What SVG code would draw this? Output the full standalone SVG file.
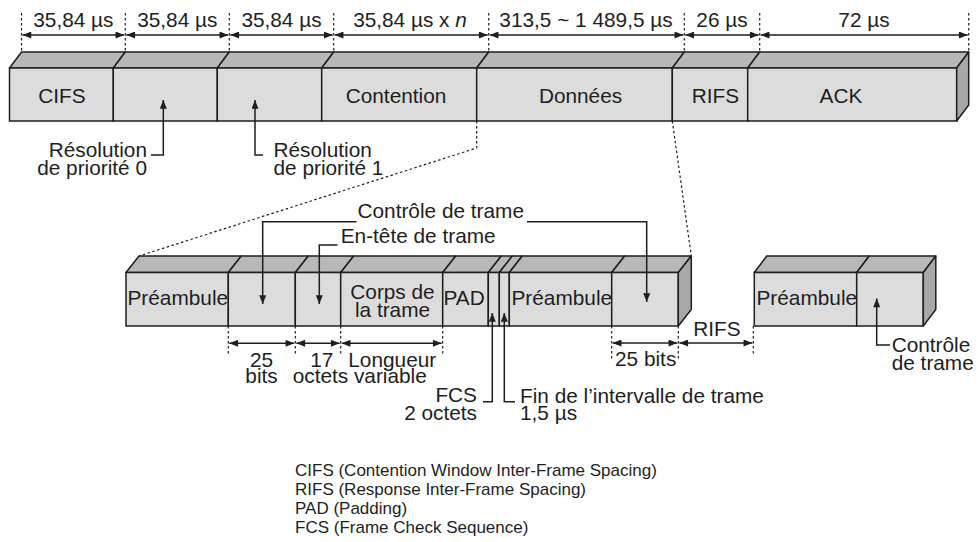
<svg xmlns="http://www.w3.org/2000/svg" width="978" height="542" viewBox="0 0 978 542">
<defs>
<style>
.f{fill:#dcdcdc;stroke:#1e1e1e;stroke-width:1.5}
.t{fill:#b8b8b8;stroke:#1e1e1e;stroke-width:1.5;stroke-linejoin:round}
.s{fill:#a8a8a8;stroke:#1e1e1e;stroke-width:1.5;stroke-linejoin:round}
.ln{fill:none;stroke:#1e1e1e;stroke-width:1.5}
.dt{fill:none;stroke:#1e1e1e;stroke-width:1.2;stroke-dasharray:2.5,2.5}
.dim{fill:none;stroke:#1e1e1e;stroke-width:1.5;marker-start:url(#ah);marker-end:url(#ah)}
.arr{fill:none;stroke:#1e1e1e;stroke-width:1.5;marker-end:url(#ah)}
text{font-family:"Liberation Sans",Arial,Helvetica,sans-serif;font-size:20.8px;fill:#1e1e1e}
.lg{font-size:17px}
.m{text-anchor:middle}
.e{text-anchor:end}
</style>
<marker id="ah" viewBox="0 0 10 8" refX="10" refY="4" markerWidth="10" markerHeight="7" orient="auto-start-reverse" markerUnits="userSpaceOnUse"><path d="M0,0 L10,4 L0,8 z" fill="#1e1e1e"/></marker>
</defs>

<!-- Top bar -->
<g id="cifs"><polygon class="t" points="9.5,68 21.5,52 125.3,52 113.3,68"/><rect class="f" x="9.5" y="68" width="103.8" height="53"/><text class="m" x="62" y="103">CIFS</text></g>
<g id="prio0"><polygon class="t" points="113.3,68 125.3,52 229.3,52 217.3,68"/><rect class="f" x="113.3" y="68" width="104" height="53"/></g>
<g id="prio1"><polygon class="t" points="217.3,68 229.3,52 333.7,52 321.7,68"/><rect class="f" x="217.3" y="68" width="104.4" height="53"/></g>
<g id="contention"><polygon class="t" points="321.7,68 333.7,52 488.7,52 476.7,68"/><rect class="f" x="321.7" y="68" width="155" height="53"/><text class="m" x="396" y="103">Contention</text></g>
<g id="donnees"><polygon class="t" points="476.7,68 488.7,52 684.3,52 672.3,68"/><rect class="f" x="476.7" y="68" width="195.6" height="53"/><text class="m" x="580.5" y="103">Données</text></g>
<g id="rifs"><polygon class="t" points="672.3,68 684.3,52 759.7,52 747.7,68"/><rect class="f" x="672.3" y="68" width="75.4" height="53"/><text class="m" x="715.5" y="103">RIFS</text></g>
<g id="ack"><polygon class="t" points="747.7,68 759.7,52 968.7,52 956.7,68"/><rect class="f" x="747.7" y="68" width="209" height="53"/><polygon class="s" points="956.7,68 968.7,52 968.7,105 956.7,121"/><text class="m" x="841" y="103">ACK</text></g>

<!-- Lower frame 1 -->
<g id="preambule1"><polygon class="t" points="126,272.5 139,256 241.3,256 228.3,272.5"/><rect class="f" x="126" y="272.5" width="102.3" height="53.5"/><text x="127.5" y="304.5">Préambule</text></g>
<g id="ctrl1"><polygon class="t" points="228.3,272.5 241.3,256 308.3,256 295.3,272.5"/><rect class="f" x="228.3" y="272.5" width="67" height="53.5"/></g>
<g id="entete"><polygon class="t" points="295.3,272.5 308.3,256 353.7,256 340.7,272.5"/><rect class="f" x="295.3" y="272.5" width="45.4" height="53.5"/></g>
<g id="corps"><polygon class="t" points="340.7,272.5 353.7,256 455.7,256 442.7,272.5"/><rect class="f" x="340.7" y="272.5" width="102" height="53.5"/><text class="m" x="392.5" y="298.5">Corps de</text><text class="m" x="392.5" y="316.5">la trame</text></g>
<g id="pad"><polygon class="t" points="442.7,272.5 455.7,256 501.3,256 488.3,272.5"/><rect class="f" x="442.7" y="272.5" width="45.6" height="53.5"/><text x="443.5" y="304.5">PAD</text></g>
<g id="fcs"><polygon class="t" points="488.3,272.5 501.3,256 512.3,256 499.3,272.5"/><rect class="f" x="488.3" y="272.5" width="11" height="53.5"/></g>
<g id="fin"><polygon class="t" points="499.3,272.5 512.3,256 522.3,256 509.3,272.5"/><rect class="f" x="499.3" y="272.5" width="10" height="53.5"/></g>
<g id="preambule2"><polygon class="t" points="509.3,272.5 522.3,256 624.7,256 611.7,272.5"/><rect class="f" x="509.3" y="272.5" width="102.4" height="53.5"/><text x="511.5" y="304.5">Préambule</text></g>
<g id="ctrl2"><polygon class="t" points="611.7,272.5 624.7,256 691.3,256 678.3,272.5"/><rect class="f" x="611.7" y="272.5" width="66.6" height="53.5"/><polygon class="s" points="678.3,272.5 691.3,256 691.3,309.5 678.3,326"/></g>

<!-- Lower frame 2 -->
<g id="preambule3"><polygon class="t" points="754.3,272.5 766.8,256 869.2,256 856.7,272.5"/><rect class="f" x="754.3" y="272.5" width="102.4" height="53.5"/><text x="756.5" y="304.5">Préambule</text></g>
<g id="ctrl3"><polygon class="t" points="856.7,272.5 869.2,256 935.8,256 923.3,272.5"/><rect class="f" x="856.7" y="272.5" width="66.6" height="53.5"/><polygon class="s" points="923.3,272.5 935.8,256 935.8,309.5 923.3,326"/></g>

<!-- Connectors -->
<g id="connectors">
<path class="dt" d="M21.5,13V52M125.3,13V52M229.3,13V52M333.7,13V52M488.7,13V52M684.3,13V52M759.7,13V52M968.7,13V52"/>
<line class="dim" x1="22.5" y1="35" x2="124.3" y2="35"/>
<line class="dim" x1="126.3" y1="35" x2="228.3" y2="35"/>
<line class="dim" x1="230.3" y1="35" x2="332.7" y2="35"/>
<line class="dim" x1="334.7" y1="35" x2="487.7" y2="35"/>
<line class="dim" x1="489.7" y1="35" x2="683.3" y2="35"/>
<line class="dim" x1="685.3" y1="35" x2="758.7" y2="35"/>
<line class="dim" x1="760.7" y1="35" x2="967.7" y2="35"/>
<polyline class="arr" points="151,155 163.3,155 163.3,100"/>
<polyline class="arr" points="263,155 255,155 255,100"/>
<polyline class="dt" points="476.7,121 476.7,148 139,256"/>
<line class="dt" x1="672.3" y1="121" x2="691.3" y2="256"/>
<polyline class="arr" points="356.5,221.7 262.7,221.7 262.7,304"/>
<polyline class="arr" points="527,221.7 646.7,221.7 646.7,302"/>
<polyline class="arr" points="337.5,245 319.3,245 319.3,304"/>
<polyline class="arr" points="483,401.7 492.3,401.7 492.3,313"/>
<polyline class="arr" points="515,401.7 504.3,401.7 504.3,313"/>
<polyline class="arr" points="890,345 876.7,345 876.7,298.5"/>
<path class="dt" d="M228.3,326V356M295.3,326V356M340.7,326V356M442.7,326V356M611.7,326V359M678.3,326V359M753.3,326V355"/>
<line class="dim" x1="229.3" y1="343.3" x2="294.3" y2="343.3"/>
<line class="dim" x1="296.3" y1="343.3" x2="339.7" y2="343.3"/>
<line class="dim" x1="341.7" y1="343.3" x2="441.7" y2="343.3"/>
<line class="dim" x1="612.7" y1="343" x2="677.3" y2="343"/>
<line class="dim" x1="679.3" y1="343" x2="752.3" y2="343"/>
</g>

<!-- Labels -->
<g id="labels">
<text class="m" x="73.4" y="27">35,84 µs</text>
<text class="m" x="177.3" y="27">35,84 µs</text>
<text class="m" x="281.5" y="27">35,84 µs</text>
<text class="m" x="410" y="27">35,84 µs x <tspan font-style="italic">n</tspan></text>
<text class="m" x="586" y="27">313,5 ~ 1 489,5 µs</text>
<text class="m" x="722" y="27">26 µs</text>
<text class="m" x="864" y="27">72 µs</text>
<text class="e" x="147" y="156.5">Résolution</text>
<text class="e" x="147" y="174.5">de priorité 0</text>
<text x="273.5" y="156.5">Résolution</text>
<text x="273.5" y="174.5">de priorité 1</text>
<text x="357.5" y="218.3">Contrôle de trame</text>
<text x="340.7" y="243">En-tête de trame</text>
<text class="m" x="261.5" y="366.5">25</text>
<text class="m" x="261.5" y="382.5">bits</text>
<text class="m" x="321.7" y="366.5">17</text>
<text x="292.7" y="382.5">octets variable</text>
<text x="348.3" y="366.5">Longueur</text>
<text x="615" y="366">25 bits</text>
<text x="693.3" y="336">RIFS</text>
<text class="e" x="477" y="401.7">FCS</text>
<text class="e" x="477" y="420">2 octets</text>
<text x="520" y="403">Fin de l’intervalle de trame</text>
<text x="520" y="420">1,5 µs</text>
<text x="891.7" y="352">Contrôle</text>
<text x="891.7" y="370">de trame</text>
<text class="lg" x="295" y="476">CIFS (Contention Window Inter-Frame Spacing)</text>
<text class="lg" x="295" y="495">RIFS (Response Inter-Frame Spacing)</text>
<text class="lg" x="295" y="514">PAD (Padding)</text>
<text class="lg" x="295" y="533">FCS (Frame Check Sequence)</text>
</g>
</svg>
